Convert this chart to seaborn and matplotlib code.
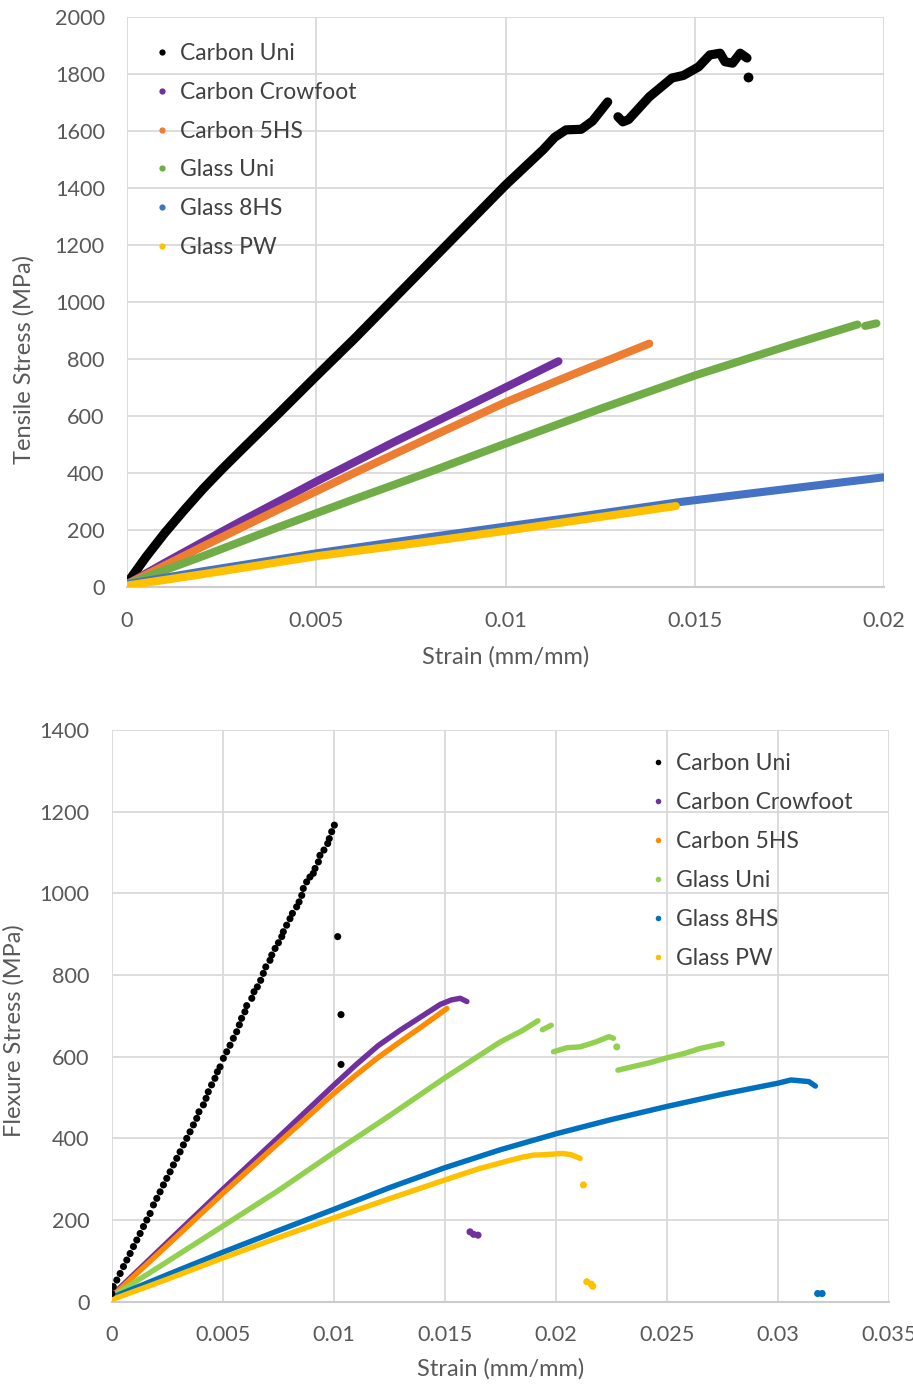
import matplotlib
matplotlib.use("Agg")
import matplotlib.pyplot as plt
from matplotlib.lines import Line2D
import seaborn as sns
import pandas as pd

# ---------------- data ----------------
SERIES = ["Carbon Uni", "Carbon Crowfoot", "Carbon 5HS", "Glass Uni", "Glass 8HS", "Glass PW"]

# --- Tensile (top) ---
t_cu1_x = [0, 0.0005, 0.001, 0.0015, 0.002, 0.0025, 0.003, 0.004, 0.005, 0.006, 0.007, 0.008,
           0.009, 0.010, 0.011, 0.0113, 0.0116, 0.0120, 0.0123, 0.0127]
t_cu1_y = [12, 105, 190, 268, 343, 412, 478, 608, 740, 870, 1005, 1140,
           1275, 1410, 1535, 1578, 1604, 1606, 1635, 1702]
t_cu2_x = [0.01297, 0.0131, 0.01325, 0.0138, 0.0144, 0.0147, 0.0151, 0.0154, 0.01567, 0.0158, 0.0160, 0.0162, 0.01638]
t_cu2_y = [1650, 1632, 1640, 1720, 1786, 1795, 1825, 1867, 1873, 1843, 1838, 1873, 1856]
t_cu_pt_x = [0.01641]
t_cu_pt_y = [1790]

t_cc_x = [0, 0.001, 0.002, 0.003, 0.005, 0.007, 0.009, 0.0114]
t_cc_y = [10, 85, 158, 230, 370, 505, 635, 792]

t_c5_x = [0, 0.001, 0.002, 0.004, 0.006, 0.008, 0.010, 0.012, 0.0138]
t_c5_y = [10, 76, 142, 272, 400, 525, 648, 758, 854]

t_gu1_x = [0, 0.002, 0.004, 0.006, 0.008, 0.010, 0.0125, 0.015, 0.0175, 0.0193]
t_gu1_y = [10, 108, 210, 308, 404, 503, 625, 742, 848, 921]
t_gu2_x = [0.0195, 0.0198]
t_gu2_y = [916, 925]

t_g8_x = [0, 0.002, 0.005, 0.008, 0.010, 0.012, 0.0146, 0.0175, 0.0200]
t_g8_y = [10, 55, 118, 175, 212, 248, 298, 345, 385]

t_gp_x = [0, 0.002, 0.005, 0.008, 0.010, 0.012, 0.0145]
t_gp_y = [5, 45, 108, 160, 197, 236, 284]

# --- Flexure (bottom) ---
f_cu_x = [0.0, 0.00007, 0.00023, 0.00038, 0.00053, 0.00068, 0.00083, 0.00098, 0.00113, 0.00128,
          0.00143, 0.00158, 0.00173, 0.00188, 0.00203, 0.00218, 0.00233, 0.00248, 0.00263, 0.00278,
          0.00293, 0.00308, 0.00323, 0.00338, 0.00353, 0.00368, 0.00383, 0.00393, 0.00413, 0.00425,
          0.00435, 0.00450, 0.00465, 0.00476, 0.00488, 0.00503, 0.00518, 0.00533, 0.00548, 0.00563,
          0.00575, 0.00585, 0.00600, 0.00608, 0.00631, 0.00641, 0.00656, 0.00671, 0.00683, 0.00694,
          0.00713, 0.00721, 0.00736, 0.00751, 0.00766, 0.00773, 0.00788, 0.00803, 0.00814, 0.00833,
          0.00844, 0.00856, 0.00863, 0.00878, 0.00893, 0.00908, 0.00916, 0.00931, 0.00938, 0.00956,
          0.00973, 0.00980, 0.00991, 0.01003]
f_cu_y = [20, 37, 53, 69, 86, 102, 118, 135, 151, 167,
          184, 200, 216, 237, 253, 269, 286, 302, 318, 335,
          351, 367, 384, 400, 416, 433, 449, 465, 482, 498,
          514, 531, 547, 563, 575, 596, 612, 628, 645, 661,
          678, 694, 710, 725, 743, 759, 771, 787, 804, 820,
          836, 849, 865, 879, 894, 906, 922, 938, 951, 967,
          979, 995, 1012, 1028, 1040, 1049, 1061, 1077, 1093, 1106,
          1122, 1134, 1151, 1167]
f_cu_pt_x = [0.01018, 0.01033, 0.01033]
f_cu_pt_y = [894, 703, 581]

f_cc_x = [0, 0.0025, 0.005, 0.0075, 0.010, 0.011, 0.012, 0.013, 0.014, 0.0148, 0.0153, 0.0157, 0.0160]
f_cc_y = [15, 145, 275, 402, 530, 580, 627, 665, 700, 728, 739, 743, 735]
f_cc_pt_x = [0.01614, 0.0163, 0.0165]
f_cc_pt_y = [171, 165, 163]

f_c5_x = [0, 0.0025, 0.005, 0.0075, 0.010, 0.011, 0.012, 0.013, 0.014, 0.0151]
f_c5_y = [12, 138, 265, 388, 510, 555, 598, 637, 675, 718]

f_gu1_x = [0, 0.0025, 0.005, 0.0075, 0.010, 0.0125, 0.015, 0.0175, 0.0185, 0.0192]
f_gu1_y = [12, 98, 185, 272, 365, 455, 548, 636, 664, 688]
f_gu2_x = [0.0194, 0.0198]
f_gu2_y = [666, 677]
f_gu3_x = [0.0199, 0.0205, 0.0211, 0.0218, 0.0224, 0.0226]
f_gu3_y = [612, 622, 624, 636, 649, 645]
f_gu4_x = [0.0228, 0.0235, 0.0243, 0.0250, 0.0258, 0.0265, 0.0275]
f_gu4_y = [567, 576, 586, 597, 608, 620, 632]
f_gu_pt_x = [0.02275]
f_gu_pt_y = [624]

f_g8_x = [0, 0.0025, 0.005, 0.0075, 0.010, 0.0125, 0.015, 0.0175, 0.020, 0.0225, 0.025, 0.0275, 0.030, 0.0306, 0.0314, 0.0317]
f_g8_y = [10, 66, 121, 174, 226, 279, 328, 372, 411, 446, 478, 508, 535, 543, 539, 528]
f_g8_pt_x = [0.0318, 0.0320]
f_g8_pt_y = [20, 20]

f_gp_x = [0, 0.0025, 0.005, 0.0075, 0.010, 0.0125, 0.015, 0.0165, 0.018, 0.0185, 0.019, 0.0195, 0.0203, 0.0207, 0.0211]
f_gp_y = [5, 55, 107, 157, 205, 252, 298, 325, 347, 354, 359, 360, 363, 360, 351]
f_gp_pt_x = [0.02125, 0.0214, 0.0216, 0.02167]
f_gp_pt_y = [286, 49, 43, 38]

TOP_COLORS = ["#000000", "#7030A0", "#ED7D31", "#70AD47", "#4472C4", "#FFC000"]
BOT_COLORS = ["#000000", "#7030A0", "#FF8C00", "#92D050", "#0070C0", "#FFC000"]

T_XTICKS = [0, 0.005, 0.01, 0.015, 0.02]
T_XLABELS = ["0", "0.005", "0.01", "0.015", "0.02"]
T_YTICKS = list(range(0, 2001, 200))
B_XTICKS = [0, 0.005, 0.01, 0.015, 0.02, 0.025, 0.03, 0.035]
B_XLABELS = ["0", "0.005", "0.01", "0.015", "0.02", "0.025", "0.03", "0.035"]
B_YTICKS = list(range(0, 1401, 200))


def frame(name, seg, xs, ys):
    return pd.DataFrame({"strain": xs, "stress": ys, "series": name, "seg": f"{name}-{seg}"})


top_black = pd.concat([
    frame("Carbon Uni", 1, t_cu1_x, t_cu1_y),
    frame("Carbon Uni", 2, t_cu2_x, t_cu2_y),
], ignore_index=True)
top_lines = pd.concat([
    frame("Carbon Crowfoot", 1, t_cc_x, t_cc_y),
    frame("Carbon 5HS", 1, t_c5_x, t_c5_y),
    frame("Glass Uni", 1, t_gu1_x, t_gu1_y),
    frame("Glass Uni", 2, t_gu2_x, t_gu2_y),
    frame("Glass 8HS", 1, t_g8_x, t_g8_y),
    frame("Glass PW", 1, t_gp_x, t_gp_y),
], ignore_index=True)
top_pts = frame("Carbon Uni", 0, t_cu_pt_x, t_cu_pt_y)

bot_lines = pd.concat([
    frame("Carbon Crowfoot", 1, f_cc_x, f_cc_y),
    frame("Carbon 5HS", 1, f_c5_x, f_c5_y),
    frame("Glass Uni", 1, f_gu1_x, f_gu1_y),
    frame("Glass Uni", 2, f_gu2_x, f_gu2_y),
    frame("Glass Uni", 3, f_gu3_x, f_gu3_y),
    frame("Glass Uni", 4, f_gu4_x, f_gu4_y),
    frame("Glass 8HS", 1, f_g8_x, f_g8_y),
    frame("Glass PW", 1, f_gp_x, f_gp_y),
], ignore_index=True)
bot_pts = pd.concat([
    frame("Carbon Uni", 0, f_cu_x, f_cu_y),
    frame("Carbon Uni", 9, f_cu_pt_x, f_cu_pt_y),
    frame("Carbon Crowfoot", 9, f_cc_pt_x, f_cc_pt_y),
    frame("Glass Uni", 9, f_gu_pt_x, f_gu_pt_y),
    frame("Glass 8HS", 9, f_g8_pt_x, f_g8_pt_y),
    frame("Glass PW", 9, f_gp_pt_x, f_gp_pt_y),
], ignore_index=True)

# ---------------- style ----------------
sns.set_theme(style="white")
plt.rcParams["font.family"] = ["Lato", "DejaVu Sans"]
TXT = "#595959"
GRID = "#d9d9d9"

W, H = 913, 1384
fig = plt.figure(figsize=(W / 100, H / 100), dpi=100)
ax1 = fig.add_axes([127 / W, 1 - 587 / H, (884 - 127) / W, (587 - 17) / H])
ax2 = fig.add_axes([111.7 / W, 1 - 1301.7 / H, (888.7 - 111.7) / W, (1301.7 - 730) / H])

top_pal = dict(zip(SERIES, TOP_COLORS))
bot_pal = dict(zip(SERIES, BOT_COLORS))

sns.lineplot(data=top_black, x="strain", y="stress", hue="series",
             units="seg", estimator=None, sort=False, palette=top_pal, linewidth=6.6,
             solid_capstyle="round", solid_joinstyle="round", legend=False, ax=ax1, zorder=3)
sns.lineplot(data=top_lines, x="strain", y="stress", hue="series", hue_order=SERIES[1:],
             units="seg", estimator=None, sort=False, palette=top_pal, linewidth=5.8,
             solid_capstyle="round", solid_joinstyle="round", legend=False, ax=ax1, zorder=3)
sns.scatterplot(data=top_pts, x="strain", y="stress", hue="series", palette=top_pal,
                s=50, linewidth=0, legend=False, ax=ax1, zorder=3)

sns.lineplot(data=bot_lines, x="strain", y="stress", hue="series", hue_order=SERIES[1:],
             units="seg", estimator=None, sort=False, palette=bot_pal, linewidth=3.9,
             solid_capstyle="round", solid_joinstyle="round", legend=False, ax=ax2, zorder=3)
sns.scatterplot(data=bot_pts, x="strain", y="stress", hue="series", palette=bot_pal,
                s=26, linewidth=0, legend=False, ax=ax2, zorder=4)


def style_axes(ax, xticks, xlabels, yticks, xlim, ylim, ylabel, ylab_pos, xlab_y):
    ax.set_xlim(*xlim)
    ax.set_ylim(*ylim)
    ax.set_xticks(xticks)
    ax.set_xticklabels(xlabels)
    ax.set_yticks(yticks)
    ax.grid(True, color=GRID, linewidth=1.3, zorder=0)
    ax.set_axisbelow(True)
    for s in ["top", "right", "left"]:
        ax.spines[s].set_visible(False)
    ax.spines["bottom"].set_color("#cccccc")
    ax.spines["bottom"].set_linewidth(1.5)
    ax.tick_params(axis="both", length=0, labelsize=15.6, colors=TXT)
    ax.tick_params(axis="x", pad=17)
    ax.tick_params(axis="y", pad=16)
    ax.set_xlabel("Strain (mm/mm)", fontsize=17, color=TXT)
    ax.set_ylabel(ylabel, fontsize=17, color=TXT)
    ax.xaxis.label.set_va("center")
    ax.yaxis.label.set_va("center")
    ax.yaxis.label.set_ha("center")
    ax.xaxis.set_label_coords(0.5, xlab_y)
    ax.yaxis.set_label_coords(*ylab_pos)


style_axes(ax1, T_XTICKS, T_XLABELS, T_YTICKS, (0, 0.02), (0, 2000),
           "Tensile Stress (MPa)", (-0.136, 0.40), -0.122)
style_axes(ax2, B_XTICKS, B_XLABELS, B_YTICKS, (0, 0.035), (0, 1400),
           "Flexure Stress (MPa)", (-0.1257, 0.475), -0.117)


def add_legend(ax, pal, anchor, msize, spacing):
    handles = [Line2D([0], [0], marker="o", linestyle="", markersize=msize,
                      markerfacecolor=pal[n], markeredgewidth=0) for n in SERIES]
    leg = ax.legend(handles, SERIES, loc="upper left", bbox_to_anchor=anchor,
                    bbox_transform=fig.transFigure, frameon=False, fontsize=16.5,
                    borderpad=0, handlelength=0.6, handletextpad=0.45, labelspacing=spacing)
    for t in leg.get_texts():
        t.set_color("#404040")


add_legend(ax1, top_pal, (144 / W, 1 - 32 / H), 4.5, 0.77)
add_legend(ax2, bot_pal, (640 / W, 1 - 742 / H), 4.0, 0.78)

fig.savefig("out.png", dpi=100)
